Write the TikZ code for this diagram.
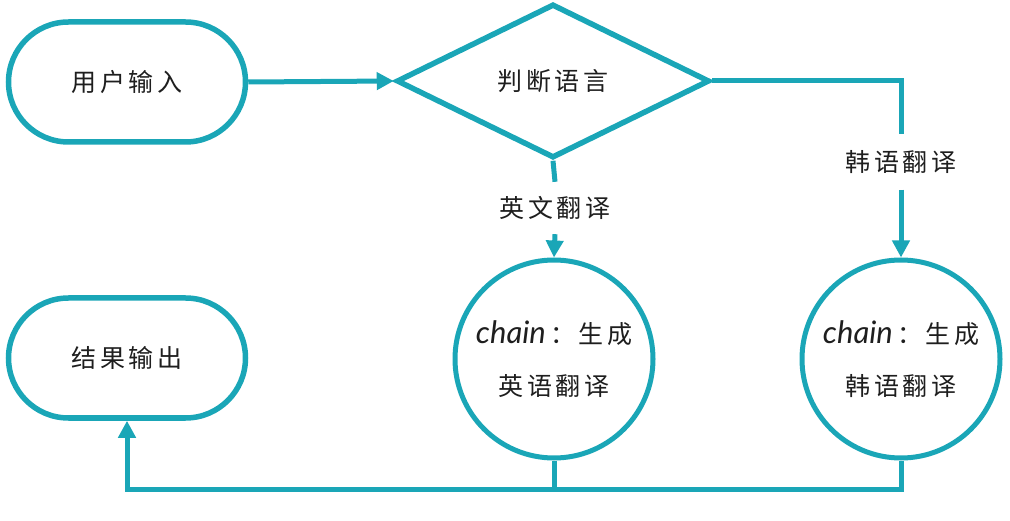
\documentclass[tikz,border=0pt]{standalone}
\usepackage{fontspec}
\setmainfont{Noto Sans CJK SC}
\newfontfamily\cjk{Noto Sans CJK SC}[LetterSpace=14]
\newfontfamily\latinit{Lato}
\usetikzlibrary{shapes.geometric,arrows.meta}
\definecolor{tealline}{RGB}{26,166,183}
\definecolor{ink}{RGB}{30,30,30}
\begin{document}
\begin{tikzpicture}[x=1pt,y=-1pt,
  every node/.style={text=ink, font=\cjk\fontsize{25}{52}\selectfont},
  stadium/.style={draw=tealline, line width=5.5pt, rounded corners=60pt, minimum width=237pt, minimum height=120pt, inner sep=0pt},
  decision/.style={draw=tealline, line width=5.5pt, diamond, minimum width=313pt, minimum height=154pt, inner sep=0pt},
  chainstep/.style={draw=tealline, line width=5pt, circle, minimum size=198pt, inner sep=0pt, align=center},
  edgelabel/.style={inner sep=0pt, minimum height=52pt},
  conn/.style={draw=tealline, line width=5pt},
  arr/.style={conn, -{Triangle[length=17pt,width=17pt]}}
]
\useasboundingbox (0,0) rectangle (1010,521);
\node[stadium] (in) at (127,82) {用户输入};
\node[decision] (dia) at (553,81) {判断语言};
\node[chainstep] (c1) at (554,359) {{\latinit\itshape\fontsize{31}{52}\selectfont chain}\,：生成\\英语翻译};
\node[chainstep] (c2) at (901,359) {{\latinit\itshape\fontsize{31}{52}\selectfont chain}\,：生成\\韩语翻译};
\node[stadium] (out) at (127,358) {结果输出};
\node[edgelabel] (l1) at (555,208) {英文翻译};
\node[edgelabel, minimum height=55pt] (l2) at (901,162) {韩语翻译};
\coordinate (j) at (127,489);

\draw[arr] (in.east) -- (dia.west);
\draw[conn] (dia.south) -- (l1.north);
\draw[arr] (l1.south) -- (c1.north);
\draw[conn] (dia.east) -| (l2.north);
\draw[arr] (l2.south) -- (c2.north);
\draw[arr] (c2.south) |- (j) -- (out.south);
\draw[conn] (c1.south) -- (c1.south |- j);
\end{tikzpicture}
\end{document}
